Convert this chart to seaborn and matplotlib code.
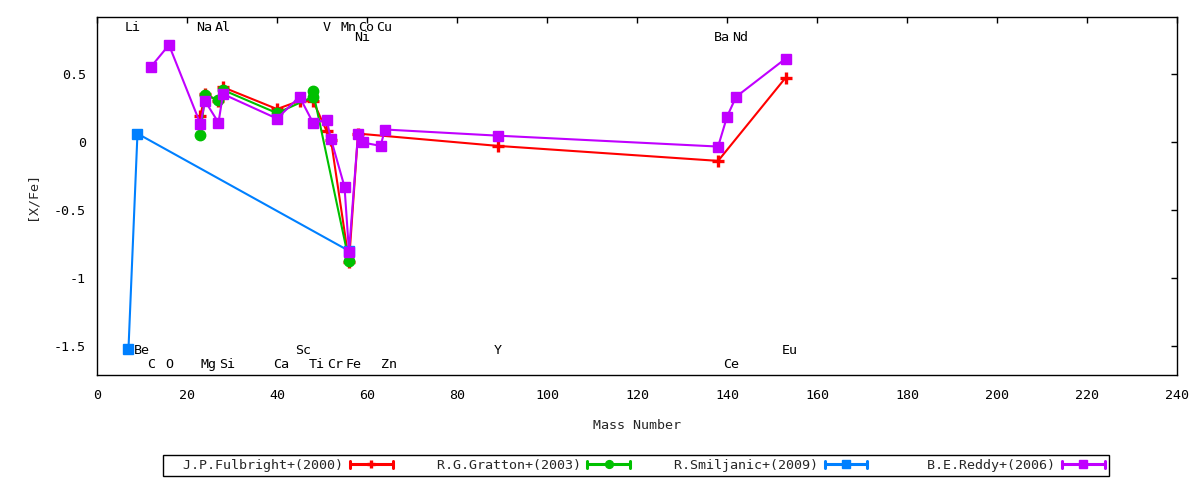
import matplotlib
matplotlib.use('Agg')
import matplotlib.pyplot as plt
from matplotlib.legend_handler import HandlerBase
from matplotlib.lines import Line2D
from matplotlib.ticker import FuncFormatter
import numpy as np
import pandas as pd
import seaborn as sns

sns.set_theme(style='white')
plt.rcParams['font.family'] = ['DejaVu Sans Mono', 'DejaVu Sans']
plt.rcParams['axes.unicode_minus'] = False

# ---- data: [X/Fe] vs mass number ----
fulbright_mass = [23, 24, 27, 28, 40, 45, 48, 51, 52, 56, 58, 89, 138, 153]
fulbright_xfe = [0.19, 0.35, 0.30, 0.40, 0.24, 0.30, 0.30, 0.08, 0.01, -0.88, 0.06, -0.03, -0.14, 0.47]

gratton_mass = [23, 24, 27, 28, 40, 48, 48, 56]
gratton_xfe = [0.05, 0.34, 0.31, 0.38, 0.21, 0.33, 0.37, -0.875]

smiljanic_mass = [7, 9, 56]
smiljanic_xfe = [-1.52, 0.06, -0.80]

reddy_mass = [12, 16, 23, 24, 27, 28, 40, 45, 48, 51, 52, 55, 56, 58, 59, 63, 64,
              89, 138, 140, 142, 153]
reddy_xfe = [0.55, 0.71, 0.13, 0.30, 0.14, 0.35, 0.17, 0.33, 0.14, 0.16, 0.02, -0.33,
             -0.81, 0.06, -0.005, -0.03, 0.09, 0.045, -0.035, 0.185, 0.33, 0.61]

series_names = ['J.P.Fulbright+(2000)', 'R.G.Gratton+(2003)',
                'R.Smiljanic+(2009)', 'B.E.Reddy+(2006)']

# element labels, one list per text row
row1_names = ['Li', 'Na', 'Al', 'V', 'Mn', 'Co', 'Cu']
row1_mass = [7, 23, 27, 51, 55, 59, 63]
row2_names = ['Ni', 'Ba', 'Nd']
row2_mass = [58, 138, 142]
row3_names = ['Be', 'Sc', 'Y', 'Eu']
row3_mass = [9, 45, 89, 153]
row4_names = ['C', 'O', 'Mg', 'Si', 'Ca', 'Ti', 'Cr', 'Fe', 'Zn', 'Ce']
row4_mass = [12, 16, 24, 28, 40, 48, 52, 56, 64, 140]
row_levels = [0.84, 0.765, -1.53, -1.635]

x_ticks = [0, 20, 40, 60, 80, 100, 120, 140, 160, 180, 200, 220, 240]
y_ticks = [-1.5, -1, -0.5, 0, 0.5]

# ---- styles ----
FS = 9.6
styles = [
    dict(color='#ff0000', marker='+', ms=8, mew=2.4),
    dict(color='#00c000', marker='o', ms=7.5, mew=1),
    dict(color='#0080ff', marker='s', ms=7, mew=1),
    dict(color='#c000ff', marker='s', ms=7.5, mew=1),
]
datasets = [(fulbright_mass, fulbright_xfe), (gratton_mass, gratton_xfe),
            (smiljanic_mass, smiljanic_xfe), (reddy_mass, reddy_xfe)]


class ErrKeyHandler(HandlerBase):
    """gnuplot-like key sample: line with end caps and the point in the middle"""
    def create_artists(self, legend, orig_handle, xdescent, ydescent,
                       width, height, fontsize, trans):
        c = orig_handle.get_color()
        y = height / 2 - ydescent
        x0, x1 = -xdescent, width - xdescent
        cap = height * 0.35
        arts = [
            Line2D([x0, x1], [y, y], color=c, lw=2.2),
            Line2D([x0, x0], [y - cap, y + cap], color=c, lw=2.2),
            Line2D([x1, x1], [y - cap, y + cap], color=c, lw=2.2),
            Line2D([(x0 + x1) / 2], [y], color=c, marker=orig_handle.get_marker(),
                   markersize=orig_handle.get_markersize() * 0.75,
                   markeredgewidth=orig_handle.get_markeredgewidth(), lw=0),
        ]
        for a in arts:
            a.set_transform(trans)
        return arts


fig = plt.figure(figsize=(12, 4.8), dpi=100)
ax = fig.add_axes([0.0808, 0.21875, 0.9002, 0.74585])

handles = []
for (m, v), st in zip(datasets, styles):
    df = pd.DataFrame({'mass': m, 'xfe': v})
    sns.lineplot(data=df, x='mass', y='xfe', ax=ax, color=st['color'],
                 marker=st['marker'], markersize=st['ms'], markeredgewidth=st['mew'],
                 markeredgecolor=st['color'], linewidth=1.5,
                 estimator=None, sort=False, legend=False)
    handles.append(Line2D([], [], color=st['color'], marker=st['marker'],
                          markersize=st['ms'], markeredgewidth=st['mew']))

# element names
for names, masses, lev in zip([row1_names, row2_names, row3_names, row4_names],
                              [row1_mass, row2_mass, row3_mass, row4_mass],
                              row_levels):
    for n, mm in zip(names, masses):
        ax.annotate(n, xy=(mm, lev), xytext=(-4, 0), textcoords='offset pixels',
                    ha='left', va='center', fontsize=FS, color='black')

ax.set_xlim(0, 240)
ax.set_ylim(-1.71, 0.915)
ax.set_xticks(x_ticks)
ax.set_yticks(y_ticks)
ax.yaxis.set_major_formatter(FuncFormatter(lambda v, _: f'{v:g}'))
ax.tick_params(direction='in', length=4.5, width=1, top=True, right=True,
               labelsize=FS, colors='black')
ax.tick_params(axis='x', pad=10)
ax.tick_params(axis='y', pad=8)
for sp in ax.spines.values():
    sp.set_color('black')
    sp.set_linewidth(1)

ax.set_xlabel('Mass Number', fontsize=FS, va='center')
ax.set_ylabel('[X/Fe]', fontsize=FS, va='center')
ax.xaxis.set_label_coords(0.5, -0.1397)
ax.yaxis.set_label_coords(-0.060, 0.5)

labels = [s.rjust(22) for s in series_names]
leg = fig.legend(handles, labels, loc='center', bbox_to_anchor=(0.53, 0.0302), ncol=4,
                 handler_map={Line2D: ErrKeyHandler()}, frameon=True, fancybox=False,
                 edgecolor='black', framealpha=1, handlelength=3.2, handletextpad=0.5,
                 columnspacing=0.9, borderpad=0.3, fontsize=FS, markerfirst=False)
leg.get_frame().set_linewidth(1)

fig.savefig('out.png', dpi=100)
